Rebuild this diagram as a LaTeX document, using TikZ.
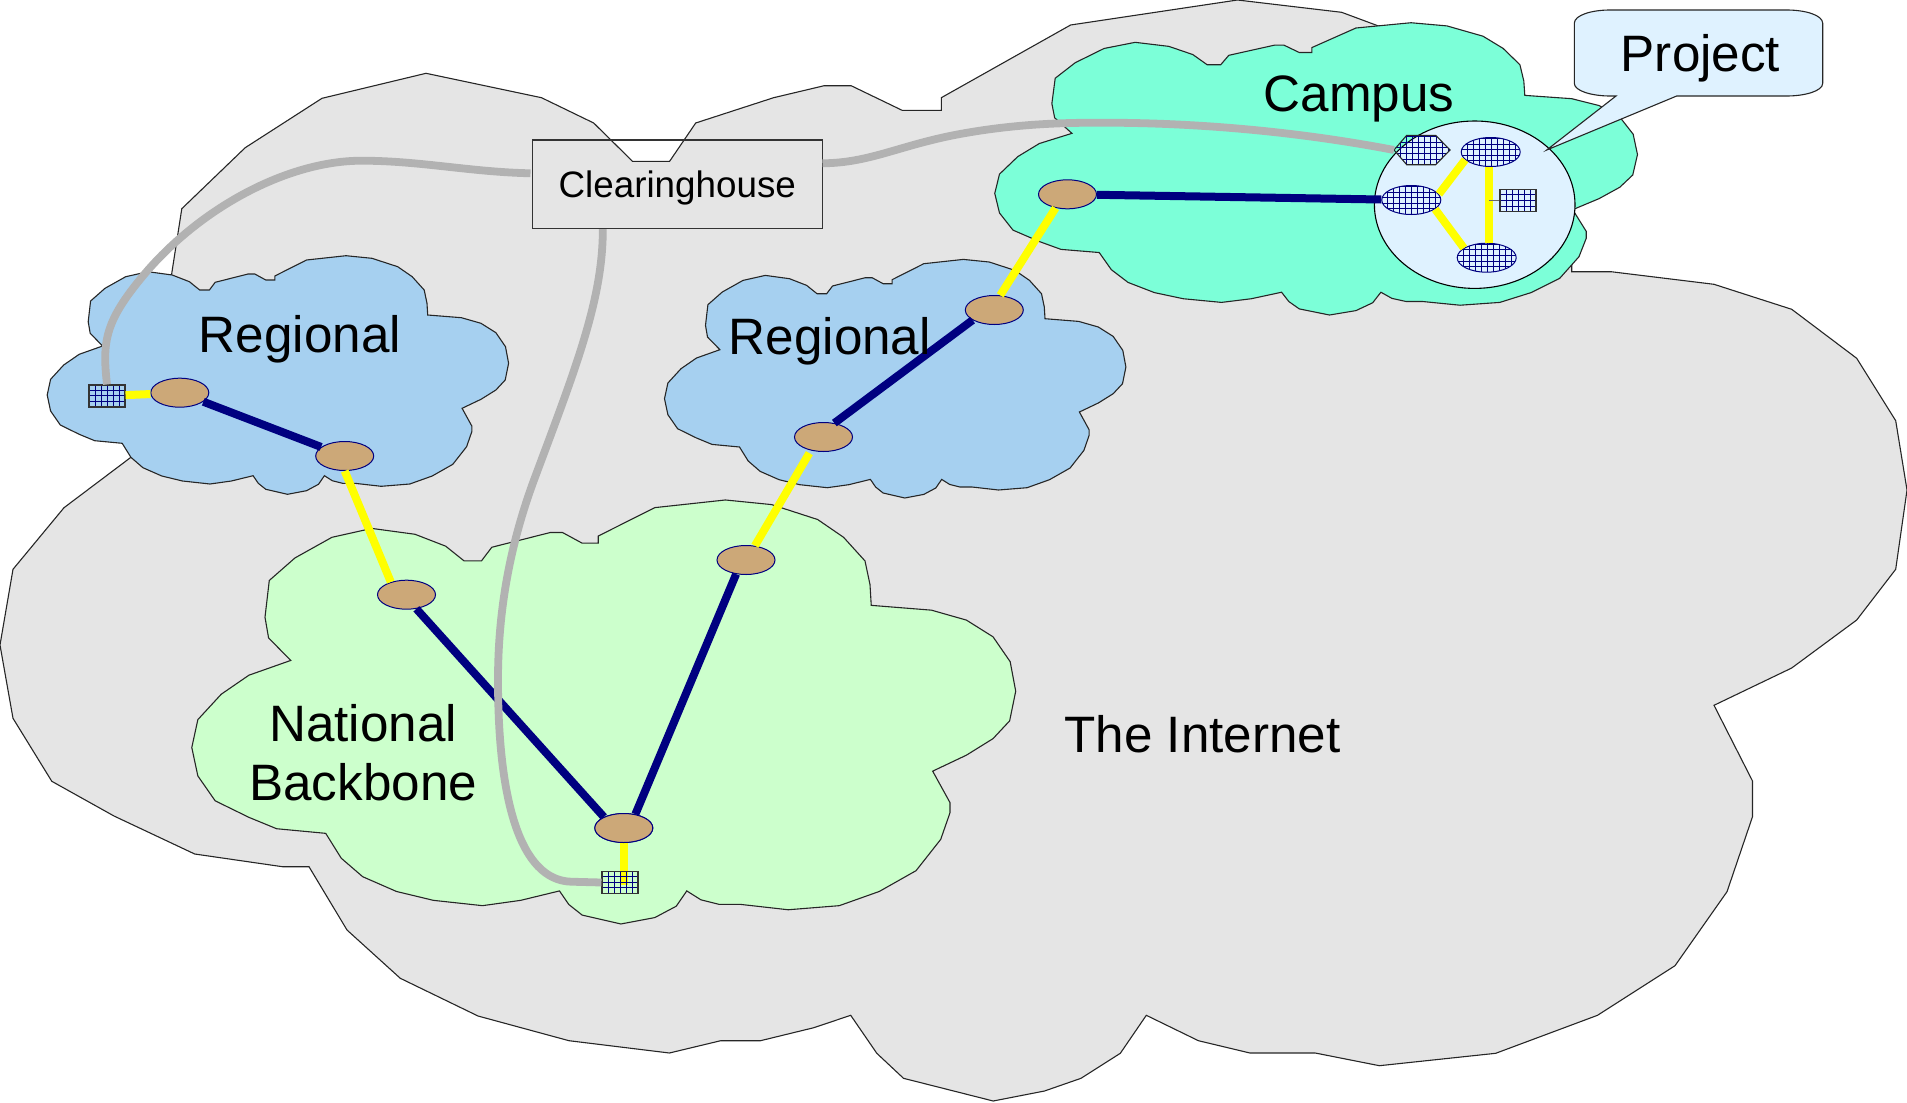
\documentclass[tikz,border=0pt]{standalone}
\usepackage{xcolor}
\usepackage{fontspec}
\setmainfont{Liberation Sans}
\usetikzlibrary{shapes,shapes.geometric}
\definecolor{internetgray}{HTML}{E5E5E5}
\definecolor{regionalblue}{HTML}{A6D0F0}
\definecolor{campusgreen}{HTML}{7CFFD8}
\definecolor{backbonegreen}{HTML}{CCFFCC}
\definecolor{projectblue}{HTML}{DFF2FF}
\definecolor{routertan}{HTML}{CCA878}
\definecolor{linknavy}{HTML}{000080}
\definecolor{linkyellow}{HTML}{FFFF00}
\definecolor{linkgray}{HTML}{B2B2B2}
\tikzset{
  outline/.style={draw=black!85, line width=0.55pt, line join=miter},
  router/.style={ellipse, draw=linknavy, fill=routertan, line width=0.5pt, inner sep=0pt, minimum width=29pt, minimum height=14.5pt},
  gridded/.style={path picture={
    \foreach \i in {1,...,12} {
      \draw[linknavy, line width=0.5pt] ([xshift=\i*3pt]path picture bounding box.south west) -- ([xshift=\i*3pt]path picture bounding box.north west);
      \draw[linknavy, line width=0.5pt] ([yshift=\i*2.8pt]path picture bounding box.south west) -- ([yshift=\i*2.8pt]path picture bounding box.south east);
    }}},
  hostbox/.style={rectangle, gridded, draw=black!80, line width=0.55pt, inner sep=0pt, minimum width=18pt, minimum height=11pt},
  gridrouter/.style={ellipse, gridded, draw=linknavy, line width=0.5pt, inner sep=0pt, minimum width=29.5pt, minimum height=14.5pt},
  navylink/.style={draw=linknavy, line width=4pt},
  yellowlink/.style={draw=linkyellow, line width=4pt},
  graylink/.style={draw=linkgray, line width=3.9pt},
  biglabel/.style={font=\fontsize{25.6}{29.2}\selectfont, inner sep=0pt, anchor=base},
}
\newcommand{\cloudoutline}{(148,271.7) -- (172.2,275) -- (189.4,281.7) -- (199.7,290) -- (209.4,290) -- (215.2,282.3) -- (248,274) -- (254.8,274) -- (265.8,280) -- (274.8,280) -- (274.8,276) -- (306.5,260) -- (346,255.7) -- (371.9,258.3) -- (397.7,266.7) -- (412.2,276.7) -- (424.2,290) -- (427,303.3) -- (427.7,315) -- (461.4,317.7) -- (481,323.3) -- (495.9,332.7) -- (505.5,346.7) -- (508.6,363.3) -- (505.2,380) -- (495.9,390) -- (481,399.3) -- (462.1,408.3) -- (471.8,426) -- (471.8,431.7) -- (466.6,446.7) -- (452.8,464.3) -- (432.2,476) -- (409.8,484) -- (381.2,486.3) -- (354.7,483.3) -- (342.6,483.3) -- (332.3,480.7) -- (324.4,475.7) -- (318.5,484.3) -- (306.5,490.7) -- (287.5,494.3) -- (265.8,489.3) -- (258.3,483.3) -- (253.1,475.7) -- (231.4,481) -- (210,484) -- (182.5,481) -- (161.8,476) -- (142.9,467.7) -- (130.9,457.3) -- (122.2,443.3) -- (94.7,440.7) -- (79.2,434.3) -- (60.3,425) -- (50.6,411) -- (47.2,395) -- (50.6,379.3) -- (63.7,365) -- (79.2,354.3) -- (102.6,346) -- (90.2,333.3) -- (88.2,321.7) -- (90.6,301) -- (105,288.3) -- (125.7,276.7) -- cycle}

\begin{document}
\begin{tikzpicture}[x=0.5pt, y=-0.5pt]
      \useasboundingbox (0,0) rectangle (1907,1103);
      \draw[outline, fill=internetgray] (1237.5,0) -- (1341.6,12.3) -- (1378.5,26) -- (1571.7,260) -- (1571.7,271.7) -- (1611,271.7) -- (1714,284.3) -- (1791.7,309.3) -- (1856.7,358.3) -- (1895.7,420.7) -- (1907,490) -- (1895.7,569.3) -- (1856.7,620) -- (1791.7,668) -- (1714,705.3) -- (1752.5,781) -- (1752.5,816.7) -- (1727,891.7) -- (1675,965.7) -- (1597.5,1015.3) -- (1495.7,1053.3) -- (1379.4,1065.7) -- (1315.2,1053) -- (1249.9,1053) -- (1198.4,1040.7) -- (1146.3,1015.3) -- (1120.3,1053.3) -- (1081,1078.3) -- (1044.5,1091) -- (993.2,1101) -- (903.5,1078.3) -- (876.8,1053.3) -- (850.7,1015.3) -- (813.8,1027.7) -- (760.5,1040.7) -- (720.7,1040.7) -- (669.4,1053) -- (569,1040.7) -- (478,1016) -- (400.3,978.3) -- (347,930) -- (309,866.7) -- (282.4,866.7) -- (194.7,854) -- (114,816) -- (51.8,781.3) -- (13,718.3) -- (0,645) -- (13,569.3) -- (64,507.7) -- (130.9,457.3) -- (171.5,275) -- (181.8,208.7) -- (245.2,147.7) -- (322,98.3) -- (426,73.3) -- (541.5,97.7) -- (593.7,123) -- (632.5,161.3) -- (669.6,161.3) -- (695.7,123) -- (773.6,97.7) -- (824.2,85.7) -- (851.1,85.7) -- (902.1,110.3) -- (941.3,110.3) -- (941.3,97.7) -- (1070.6,25) -- cycle;

      \draw[outline, fill=backbonegreen, shift={(107.5,45.6)}, xscale=1.7857, yscale=1.777] \cloudoutline;
      \draw[outline, fill=regionalblue] \cloudoutline;
      \draw[outline, fill=regionalblue, shift={(617.3,3.7)}] \cloudoutline;
      \draw[outline, fill=campusgreen, shift={(929,-290.5)}, xscale=1.393, yscale=1.225] \cloudoutline;

      \node[rectangle, draw=black!80, line width=0.55pt, inner sep=0pt, minimum width=145pt, minimum height=44.3pt, text height=17pt, text depth=4pt, font=\fontsize{18.4}{21}\selectfont] (clearing) at (677.3,184.3) {Clearinghouse};
      \node[router] (regaleft) at (179.8,392.7) {};
      \node[router] (regaright) at (344.7,456) {};
      \node[router] (regblow) at (823.5,437) {};
      \node[router] (regbhigh) at (994.3,310) {};
      \node[router] (campusedge) at (1067.5,194.3) {};
      \node[router] (bonewest) at (406.5,594.7) {};
      \node[router] (boneeast) at (746,560) {};
      \node[router] (bonelow) at (623.8,828) {};
      \node[hostbox] (hostreg) at (107,396) {};

      \draw[yellowlink] (hostreg) -- (regaleft);
      \draw[navylink] (regaleft) -- (regaright);
      \draw[yellowlink] (regaright.south) -- (bonewest.141);
      \draw[navylink] (bonewest.-55) -- (bonelow.151);
      \draw[navylink] (boneeast.235) -- (bonelow.50);
      \draw[yellowlink, shorten <=1.5pt] (regblow.227) -- (boneeast.58);
      \draw[navylink] (regblow.52) -- (regbhigh.205);
      \draw[yellowlink] (regbhigh.68) -- (campusedge.229);

      \coordinate (hostbonein) at (623.8,885);
      \draw[yellowlink] (bonelow) -- (hostbonein);
      \node[router] at (bonelow) {};
      \node[hostbox] (hostbone) at (620,882.5) {};

      \node[ellipse, draw=black, line width=0.55pt, fill=projectblue, inner sep=0pt, minimum width=100.3pt, minimum height=83.7pt] (project) at (1474.7,204.7) {};
      \node[gridrouter] (projtop) at (1490.7,152) {};
      \node[gridrouter] (projleft) at (1411.3,200) {};
      \node[gridrouter] (projlow) at (1486.7,257.7) {};
      \node[hostbox] (projhost) at (1518,200.7) {};
      \coordinate (spine) at (1489,200.7);
      \coordinate (hexwest) at (1394,150);
      \draw[outline, gridded] (hexwest) -- (1406.7,135.3) -- (1435.7,135.3) -- (1450,150) -- (1435.7,164.7) -- (1406.7,164.7) -- cycle;

      \draw[navylink] (campusedge) -- (projleft);
      \draw[yellowlink] (projleft.12) -- (projtop.197);
      \draw[yellowlink] (projleft.-21) -- (projlow.157);
      \draw[yellowlink] (spine |- projtop.south) -- (spine |- projlow.north);
      \draw[draw=black!60, line width=0.7pt] (projhost.west) -- (spine);

      \coordinate (clearingleft) at (530.5,173.3);
      \coordinate (clearingright) at (822.5,163.3);
      \draw[graylink] (clearingleft) .. controls (470,172) and (420,160.7) .. (361.6,160.7) .. controls (290,160.7) and (205,205) .. (148,270) .. controls (105,320) and (102,340) .. (hostreg.north);
      \draw[graylink] (clearing.south -| 602.8,0) .. controls (603,300) and (575,370) .. (534,480) .. controls (510,545) and (498,610) .. (498,680) .. controls (498,800) and (520,880) .. (571,881.7) -- (hostbone.west);
      \draw[graylink] (clearingright) .. controls (870,163) and (900,145) .. (960,134) .. controls (1020,123) and (1070,122.7) .. (1103,122.7) .. controls (1200,122.7) and (1300,132) .. (hexwest);

      \draw[outline, fill=projectblue] (1574.3,23.3) .. controls (1574.3,15) and (1592,10) .. (1610,10) -- (1786.7,10) .. controls (1805,10) and (1822.7,15) .. (1822.7,23.3) -- (1822.7,83.3) .. controls (1822.7,91) and (1805,96) .. (1786.7,96) -- (1676.7,96) -- (1546.7,150) -- (1616,96) -- (1610,96) .. controls (1592,96) and (1574.3,91) .. (1574.3,83.3) -- cycle;

      \node[biglabel] (lblregaleft) at (300,352) {Regional};
      \node[biglabel] (lblregb) at (829.8,354) {Regional};
      \node[biglabel] (lblcampus) at (1359,111.7) {Campus};
      \node[biglabel] (lblproject) at (1700.5,71) {Project};
      \node[biglabel] (lblinternet) at (1202.5,752.7) {The Internet};
      \node[biglabel, align=center] (lblbone) at (363.2,800) {National\\Backbone};
\end{tikzpicture}
\end{document}
